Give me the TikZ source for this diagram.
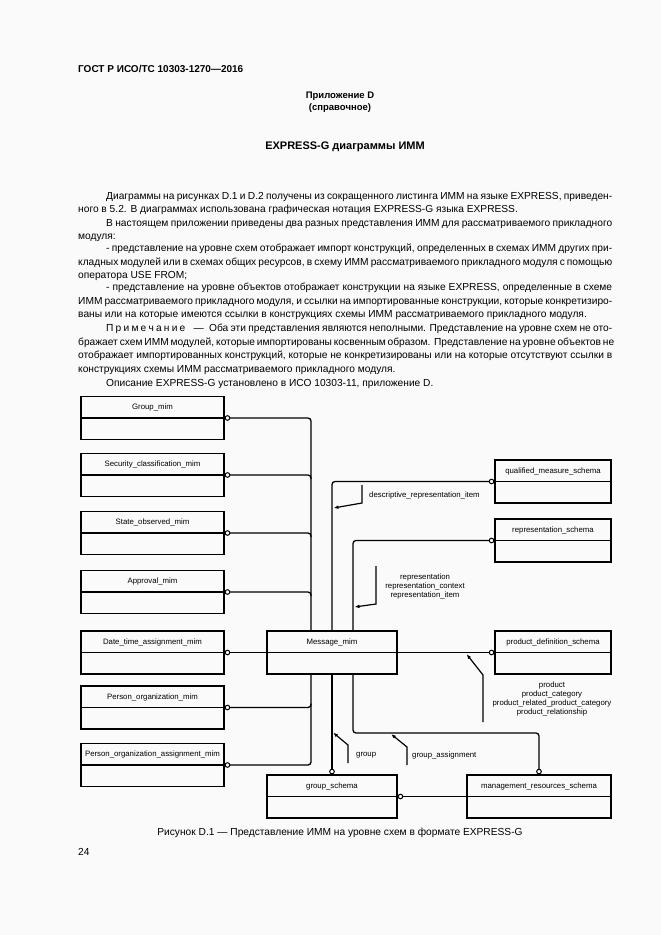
\documentclass[tikz,border=0pt]{standalone}
\usepackage{fontspec}
\setmainfont{Liberation Sans}
\usetikzlibrary{arrows.meta}

\definecolor{pagebg}{gray}{0.98}

% one justified line of the body text
\newcommand\jl[1]{\makebox[534pt][s]{#1}}
% spaced-out word
\newcommand\spc{\kern2.2pt}

\begin{document}
\begin{tikzpicture}[x=1pt,y=-1pt,
    oring/.tip={Circle[open,length=5.6pt,width=5.6pt,line width=1pt]},
    schema/.style={draw,line width=1.3pt,fill=pagebg,inner sep=0pt,
        minimum width=143pt,minimum height=43pt,
        font=\fontsize{7.8}{9}\selectfont,
        text height=5pt,text depth=22pt,
        path picture={\draw[line width=1.3pt]
            (path picture bounding box.west) -- (path picture bounding box.east);}},
    conn/.style={line width=1.3pt,rounded corners=3pt},
    ptr/.style={line width=1.2pt,-{Latex[length=5pt,width=3.6pt]}},
    lbl/.style={inner sep=0pt,font=\fontsize{7.8}{9}\selectfont},
    body/.style={anchor=base west,inner sep=0pt,align=left,
        font=\fontsize{10.2}{13.35}\selectfont}
]

    %------------------------------------------------
    % Page
    %------------------------------------------------

    \fill[pagebg] (0,0) rectangle (661,935);
    \useasboundingbox (0,0) rectangle (661,935);

    \node[anchor=base west,inner sep=0pt,
        font=\bfseries\fontsize{10}{12}\selectfont]
    (gost) at (78,72)
    {ГОСТ Р ИСО/ТС 10303-1270—2016};

    \node[align=center,inner sep=0pt,
        font=\bfseries\fontsize{9.5}{12.5}\selectfont]
    (annex) at (340,102)
    {Приложение D\\(справочное)};

    \node[font=\bfseries\fontsize{11}{13}\selectfont]
    (title) at (345,147)
    {EXPRESS-G диаграммы ИММ};

    %------------------------------------------------
    % Body text (anchored at the last line)
    %------------------------------------------------

    \node[body] (par1) at (78,212.5)
    {\jl{\hspace*{28pt}Диаграммы на рисунках D.1 и D.2 получены из сокращенного листинга ИММ на языке EXPRESS, приведен-}\\
     ного в 5.2. В диаграммах использована графическая нотация EXPRESS-G языка EXPRESS.};

    \node[body] (par2) at (78,239.5)
    {\jl{\hspace*{28pt}В настоящем приложении приведены два разных представления ИММ для рассматриваемого прикладного}\\
     модуля:};

    \node[body] (par3) at (78,278.5)
    {\jl{\hspace*{28pt}- представление на уровне схем отображает импорт конструкций, определенных в схемах ИММ других при-}\\
     \jl{кладных модулей или в схемах общих ресурсов, в схему ИММ рассматриваемого прикладного модуля с помощью}\\
     оператора USE FROM;};

    \node[body] (par4) at (78,317.5)
    {\jl{\hspace*{28pt}- представление на уровне объектов отображает конструкции на языке EXPRESS, определенные в схеме}\\
     \jl{ИММ рассматриваемого прикладного модуля, и ссылки на импортированные конструкции, которые конкретизиро-}\\
     ваны или на которые имеются ссылки в конструкциях схемы ИММ рассматриваемого прикладного модуля.};

    \node[body] (note) at (78,372)
    {\jl{\hspace*{28pt}П\spc р\spc и\spc м\spc е\spc ч\spc а\spc н\spc и\spc е\hspace*{6pt} — \hspace*{3pt}Оба эти представления являются неполными. Представление на уровне схем не ото-}\\
     \jl{бражает схем ИММ модулей, которые импортированы косвенным образом. Представление на уровне объектов не}\\
     \jl{отображает импортированных конструкций, которые не конкретизированы или на которые отсутствуют ссылки в}\\
     конструкциях схемы ИММ рассматриваемого прикладного модуля.};

    \node[body] (par5) at (78,386)
    {\hspace*{28pt}Описание EXPRESS-G установлено в ИСО 10303-11, приложение D.};

    %------------------------------------------------
    % Schemas
    %------------------------------------------------

    \node[schema] (grp) at (152.5,418)   {Group\_mim};
    \node[schema] (sec) at (152.5,475)   {Security\_classification\_mim};
    \node[schema] (sta) at (152.5,533)   {State\_observed\_mim};
    \node[schema] (apr) at (152.5,592)   {Approval\_mim};
    \node[schema] (dta) at (152.5,652.5) {Date\_time\_assignment\_mim};
    \node[schema] (por) at (152.5,707.5) {Person\_organization\_mim};
    \node[schema] (poa) at (152.5,765)   {Person\_organization\_assignment\_mim};

    \node[schema,minimum width=116pt] (qms) at (553,481.5) {qualified\_measure\_schema};
    \node[schema,minimum width=116pt] (rep) at (553,540.5) {representation\_schema};
    \node[schema,minimum width=116pt] (pds) at (553,652.5) {product\_definition\_schema};

    \node[schema,minimum width=144pt] (mrs) at (539,796.5) {management\_resources\_schema};
    \node[schema,minimum width=130pt] (gsc) at (332,796.5) {group\_schema};

    \coordinate (bus) at (311,0);
    \coordinate (mgmtbend) at (539,733);

    %------------------------------------------------
    % References
    %------------------------------------------------

    \draw[conn,oring-oring] (grp.east) -| (311,765) -- (poa.east);
    \draw[conn,oring-] (sec.east) -| ([yshift=-4pt]sec.east -| bus);
    \draw[conn,oring-] (sta.east) -| ([yshift=-4pt]sta.east -| bus);
    \draw[conn,oring-] (apr.east) -| ([yshift=-4pt]apr.east -| bus);
    \draw[conn,oring-] (por.east) -| ([yshift=4pt]por.east -| bus);

    \draw[conn,oring-oring] (dta.east) -- (pds.west);

    \node[schema,minimum width=130pt] (msg) at (332,652.5) {Message\_mim};

    \draw[conn,oring-] (qms.west) -| (msg.north);
    \draw[conn,oring-] (rep.west) -| ([xshift=21pt]msg.north);

    \draw[conn,-oring] (msg.south) -- (gsc.north);
    \draw[conn,-oring] ([xshift=21pt]msg.south) |- (mgmtbend) -- (mrs.north);
    \draw[conn,-oring] (mrs.west) -- (gsc.east);

    %------------------------------------------------
    % Imported items
    %------------------------------------------------

    \node[lbl,anchor=west] (dri) at (369,495)
    {descriptive\_representation\_item};
    \draw[ptr] (362,485) -- (362,503) -- (333.5,508);

    \node[lbl,align=center] (repitems) at (425,586)
    {representation\\representation\_context\\representation\_item};
    \draw[ptr] (376,566) -- (376,604) -- (354.5,607);

    \node[lbl,align=center] (proditems) at (552,699)
    {product\\product\_category\\product\_related\_product\_category\\product\_relationship};
    \draw[ptr] (483,722) -- (483,675) -- (466.5,654);

    \node[lbl,anchor=west] (grpitem) at (356,755) {group};
    \draw[ptr] (348,763) -- (348,745) -- (333,732.5);

    \node[lbl,anchor=west] (asgitem) at (412,755) {group\_assignment};
    \draw[ptr] (407,765) -- (407,747) -- (391,734);

    %------------------------------------------------
    % Caption
    %------------------------------------------------

    \node[font=\fontsize{10.2}{12}\selectfont] (cap) at (340,833)
    {Рисунок D.1 — Представление ИММ на уровне схем в формате EXPRESS-G};

    \node[anchor=base west,inner sep=0pt,font=\fontsize{10.2}{12}\selectfont]
    (pgno) at (78,855) {24};

\end{tikzpicture}
\end{document}
